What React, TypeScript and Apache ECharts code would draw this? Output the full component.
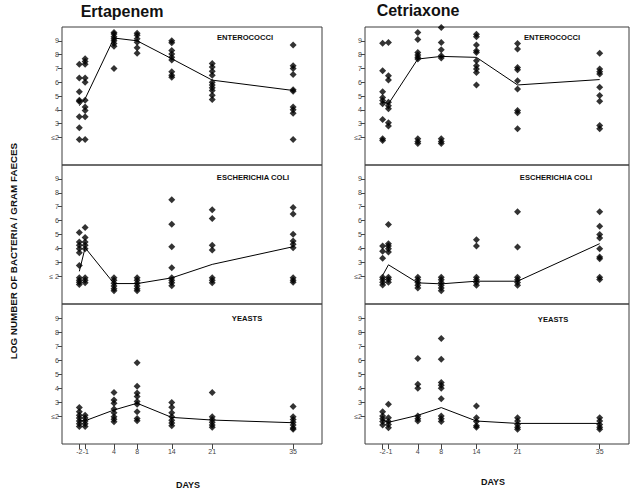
import React, { useEffect, useRef } from "react";
import * as echarts from "echarts";

const DAYS = [-2, -1, 4, 8, 14, 21, 35];
const Y_TICKS = [2, 3, 4, 5, 6, 7, 8, 9];

// Ertapenem - Enterococci
const ertaEntero: number[][] = [
  [7.3, 6.3, 5.3, 4.7, 4.6, 3.5, 2.7, 1.85],
  [7.7, 7.5, 7.3, 6.3, 6.0, 4.7, 4.2, 3.95, 3.5, 1.85],
  [9.6, 9.5, 9.3, 9.15, 9.0, 8.8, 8.6, 7.0],
  [9.55, 9.4, 9.15, 8.9, 8.5, 8.1],
  [9.0, 8.85, 8.3, 8.05, 7.8, 7.6, 6.75, 6.5, 6.35],
  [7.35, 7.1, 6.8, 6.5, 6.0, 5.8, 5.6, 5.4, 5.05, 4.75],
  [8.7, 7.2, 7.0, 6.55, 5.45, 5.35, 4.2, 4.0, 3.75, 1.85],
];
const ertaEnteroMean = [4.3, 4.8, 9.2, 9.0, 7.7, 6.15, 5.4];

// Cetriaxone - Enterococci
const cetrEntero: number[][] = [
  [8.83, 6.83, 5.3, 4.9, 4.67, 4.43, 3.3, 1.9, 1.78],
  [8.88, 6.47, 6.16, 4.55, 4.3, 4.07, 3.06, 2.82],
  [9.6, 9.1, 8.16, 7.97, 7.8, 7.68, 1.9, 1.7, 1.55],
  [9.96, 8.88, 8.35, 7.92, 7.75, 1.9, 1.7, 1.55],
  [9.48, 9.29, 8.69, 8.28, 8.16, 7.56, 7.2, 6.96, 6.71, 5.8],
  [8.8, 8.4, 7.07, 6.9, 6.1, 5.5, 3.95, 3.78, 2.62],
  [8.09, 6.96, 6.76, 6.6, 5.63, 5.03, 4.62, 2.87, 2.62],
];
const cetrEnteroMean = [4.6, 4.43, 7.68, 7.87, 7.8, 5.8, 6.19];

// Ertapenem - Escherichia coli
const ertaEcoli: number[][] = [
  [5.14, 4.46, 4.22, 3.98, 3.69, 2.77, 1.88, 1.71, 1.57, 1.4],
  [5.5, 4.78, 4.46, 4.22, 3.98, 1.88, 1.71, 1.52],
  [1.88, 1.7, 1.5, 1.3, 1.1, 0.95],
  [1.88, 1.7, 1.5, 1.3, 1.1, 0.95],
  [7.5, 5.74, 4.12, 2.6, 1.88, 1.71, 1.52, 1.32],
  [6.78, 6.15, 4.22, 3.88, 1.88, 1.71, 1.52],
  [6.95, 6.47, 5.02, 4.53, 4.29, 4.05, 1.88, 1.71, 1.57],
];
const ertaEcoliMean = [2.35, 4.05, 1.47, 1.47, 1.88, 2.85, 4.12];

// Cetriaxone - Escherichia coli
const cetrEcoli: number[][] = [
  [4.17, 3.79, 3.3, 1.93, 1.76, 1.57, 1.37],
  [5.72, 4.34, 4.17, 3.98, 3.74, 1.93, 1.76, 1.57],
  [1.93, 1.75, 1.55, 1.35, 1.15],
  [1.93, 1.75, 1.55, 1.35, 1.15, 0.95],
  [4.63, 4.17, 1.93, 1.75, 1.55, 1.35],
  [6.63, 4.1, 1.93, 1.75, 1.55, 1.35],
  [6.63, 5.6, 5.0, 4.75, 3.98, 3.38, 3.26, 1.93, 1.76],
];
const cetrEcoliMean = [2.05, 2.82, 1.52, 1.45, 1.64, 1.64, 4.34];

// Ertapenem - Yeasts
const ertaYeast: number[][] = [
  [2.6, 2.31, 2.05, 1.85, 1.65, 1.45, 1.25],
  [2.05, 1.85, 1.65, 1.45, 1.25],
  [3.68, 3.15, 2.91, 2.5, 2.24, 1.95, 1.76, 1.59],
  [5.8, 4.12, 3.64, 3.4, 3.03, 2.84, 2.31, 1.83, 1.66],
  [2.96, 2.63, 2.24, 1.95, 1.7, 1.5, 1.3],
  [3.68, 1.95, 1.75, 1.55, 1.35, 1.2],
  [2.67, 1.95, 1.75, 1.55, 1.35, 1.15, 1.05],
];
const ertaYeastMean = [1.66, 1.66, 2.43, 2.91, 1.9, 1.71, 1.52];

// Cetriaxone - Yeasts
const cetrYeast: number[][] = [
  [2.31, 2.0, 1.8, 1.6, 1.35],
  [2.84, 1.88, 1.6, 1.4, 1.16],
  [6.11, 4.27, 3.98, 2.0, 1.81, 1.64],
  [7.54, 6.06, 4.39, 4.2, 3.98, 3.24, 2.0, 1.8, 1.6],
  [2.72, 1.88, 1.6, 1.3, 1.2],
  [1.88, 1.65, 1.4, 1.2, 1.05],
  [1.88, 1.65, 1.4, 1.2, 1.05],
];
const cetrYeastMean = [1.75, 1.55, 2.05, 2.6, 1.64, 1.47, 1.47];

const PANELS = [
  { pts: ertaEntero, mean: ertaEnteroMean, label: "ENTEROCOCCI", le: "≤2" },
  { pts: ertaEcoli, mean: ertaEcoliMean, label: "ESCHERICHIA COLI", le: "≤ 2" },
  { pts: ertaYeast, mean: ertaYeastMean, label: "YEASTS", le: "≤2" },
  { pts: cetrEntero, mean: cetrEnteroMean, label: "ENTEROCOCCI", le: "≤2" },
  { pts: cetrEcoli, mean: cetrEcoliMean, label: "ESCHERICHIA COLI", le: "≤2" },
  { pts: cetrYeast, mean: cetrYeastMean, label: "YEASTS", le: "≤2" },
];

const FONT = "'Liberation Sans', Arial, sans-serif";

export default function App() {
  const ref = useRef<HTMLDivElement>(null);
  useEffect(() => {
    if (!ref.current) return;
    const chart = echarts.init(ref.current, null, { renderer: "svg" });

    const colLeft = [62, 365];
    const colWidth = [260, 264];
    const rowTop = [27, 165, 304];
    const rowHeight = [138, 139, 140];
    const labelPos = [
      [245, 37], [253, 177], [247, 318],
      [552, 37], [556, 177], [553, 319],
    ];

    const grid: any[] = [];
    const xAxis: any[] = [];
    const yAxis: any[] = [];
    const series: any[] = [];
    const graphic: any[] = [];

    const makeX = (gridIndex: number, show: boolean, values: number[], pad = 0) => ({
      type: "value",
      gridIndex,
      min: -5,
      max: 40,
      position: "bottom",
      splitLine: { show: false },
      axisLine: { show: false, onZero: false },
      axisTick: {
        show,
        length: 5,
        customValues: values,
        lineStyle: { color: "#444" },
      },
      axisLabel: {
        show,
        customValues: values,
        hideOverlap: false,
        fontSize: 7,
        color: "#444",
        fontFamily: FONT,
        margin: 4,
        padding: [0, 0, 0, pad],
      },
    });

    const extraX: any[] = [];

    PANELS.forEach((p, i) => {
      const c = Math.floor(i / 3);
      const r = i % 3;
      grid.push({
        left: colLeft[c],
        top: rowTop[r],
        width: colWidth[c],
        height: rowHeight[r],
        show: true,
        borderColor: "#3c3c3c",
        borderWidth: 1,
        backgroundColor: "transparent",
      });
      const isBottom = r === 2;
      xAxis.push(makeX(i, isBottom, DAYS.filter((d) => d !== -1)));
      if (isBottom) extraX.push(makeX(i, true, [-1], 1.5));
      yAxis.push({
        type: "value",
        gridIndex: i,
        min: 0,
        max: 10,
        position: "left",
        splitLine: { show: false },
        axisLine: { show: false, onZero: false },
        axisTick: {
          show: true,
          length: 4,
          customValues: Y_TICKS,
          lineStyle: { color: "#444" },
        },
        axisLabel: {
          customValues: Y_TICKS,
          fontSize: 7,
          color: "#444",
          fontFamily: FONT,
          margin: 3,
          formatter: (v: number) => (v === 2 ? p.le : String(v)),
        },
      });
      const data: number[][] = [];
      p.pts.forEach((vals, d) => vals.forEach((v) => data.push([DAYS[d], v])));
      series.push({
        type: "scatter",
        xAxisIndex: i,
        yAxisIndex: i,
        data,
        symbol: "diamond",
        symbolSize: [7, 7],
        itemStyle: { color: "#000" },
        z: 3,
      });
      series.push({
        type: "line",
        xAxisIndex: i,
        yAxisIndex: i,
        data: p.mean.map((m, d) => [DAYS[d], m]),
        showSymbol: false,
        symbol: "none",
        lineStyle: { color: "#000", width: 1 },
        z: 2,
      });
      graphic.push({
        type: "text",
        x: labelPos[i][0],
        y: labelPos[i][1],
        style: {
          text: p.label,
          fontSize: 7.6,
          fontWeight: "bold",
          fontFamily: FONT,
          fill: "#111",
          textAlign: "center",
          textVerticalAlign: "middle",
        },
      });
    });
    extraX.forEach((ax) => xAxis.push(ax));

    const bigText = (text: string, x: number, y: number, size: number, rot = 0) => ({
      type: "text",
      x,
      y,
      rotation: rot,
      style: {
        text,
        fontSize: size,
        fontWeight: "bold",
        fontFamily: FONT,
        fill: "#111",
        textAlign: "center",
        textVerticalAlign: "middle",
      },
    });

    graphic.push(
      bigText("Ertapenem", 122, 11, 16),
      bigText("Cetriaxone", 418, 10, 16),
      bigText("LOG NUMBER OF BACTERIA / GRAM FAECES", 13, 251, 9.8, Math.PI / 2),
      bigText("DAYS", 188, 485, 9),
      bigText("DAYS", 493, 482, 9)
    );

    chart.setOption({
      animation: false,
      backgroundColor: "#fff",
      grid,
      xAxis,
      yAxis,
      series,
      graphic,
    });
    return () => chart.dispose();
  }, []);

  return (
    <div
      ref={ref}
      style={{ position: "absolute", left: 0, top: 0, width: 632, height: 491 }}
    />
  );
}
